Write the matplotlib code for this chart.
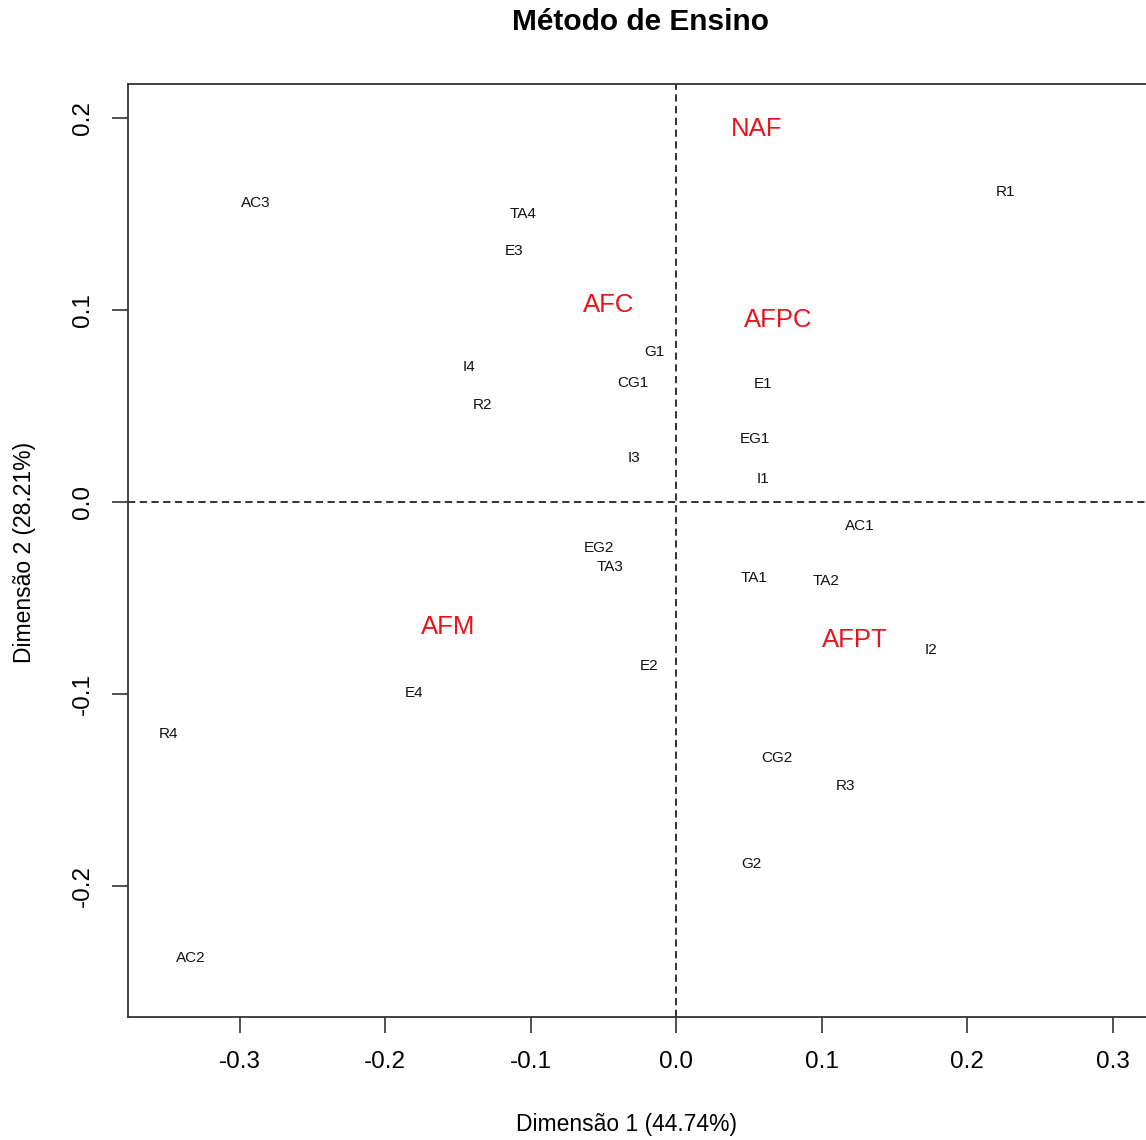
import matplotlib
matplotlib.use("Agg")
import matplotlib.pyplot as plt

plt.rcParams['font.family'] = ['Liberation Sans', 'DejaVu Sans']

# Category labels (black) and their coordinates
cat_labels = ["AC3", "TA4", "E3", "R1", "G1", "I4", "CG1", "E1", "R2", "EG1", "I3", "I1",
              "AC1", "EG2", "TA3", "TA1", "TA2", "I2", "E2", "E4", "R4", "CG2", "R3", "G2", "AC2"]
cat_dim1 = [-0.2887, -0.1052, -0.1113, 0.2268, -0.0151, -0.1423, -0.0296, 0.0598, -0.1333,
            0.0543, -0.0289, 0.0598, 0.1265, -0.0529, -0.0454, 0.0536, 0.1031, 0.1753,
            -0.0186, -0.1801, -0.3491, 0.0694, 0.1162, 0.0515, -0.3333]
cat_dim2 = [0.1558, 0.1500, 0.1308, 0.1615, 0.0781, 0.0703, 0.0620, 0.0615, 0.0505,
            0.0328, 0.0229, 0.0120, -0.0125, -0.0239, -0.0338, -0.0396, -0.0411, -0.0771,
            -0.0854, -0.0995, -0.1208, -0.1333, -0.1479, -0.1885, -0.2375]

# Teaching method labels (red)
met_labels = ["NAF", "AFC", "AFPC", "AFM", "AFPT"]
met_dim1 = [0.0557, -0.0460, 0.0701, -0.1567, 0.1230]
met_dim2 = [0.1943, 0.1026, 0.0948, -0.0651, -0.0718]

xticks = [-0.3, -0.2, -0.1, 0.0, 0.1, 0.2, 0.3]
yticks = [-0.2, -0.1, 0.0, 0.1, 0.2]

W, H = 1146, 1140
fig = plt.figure(figsize=(W / 100, H / 100), dpi=100)
left, right, top, bottom = 128, 1162, 84, 1017
ax = fig.add_axes([left / W, 1 - bottom / H, (right - left) / W, (bottom - top) / H])

x0 = (left - 676) / 1455.0
x1 = (right - 676) / 1455.0
y1 = (502 - top) / 1920.0
y0 = (502 - bottom) / 1920.0
ax.set_xlim(x0, x1)
ax.set_ylim(y0, y1)

ax.axhline(0, color='#222222', lw=1.3, ls=(0, (4, 2.5)))
ax.axvline(0, color='#222222', lw=1.3, ls=(0, (4, 2.5)))

for lab, x, y in zip(cat_labels, cat_dim1, cat_dim2):
    ax.text(x, y, lab, ha='center', va='center', fontsize=11, color='#111111')
for lab, x, y in zip(met_labels, met_dim1, met_dim2):
    ax.text(x, y, lab, ha='center', va='center', fontsize=18.5, color='#e8141c')

ax.set_xticks(xticks)
ax.set_xticklabels([f"{v:.1f}" for v in xticks])
ax.set_yticks(yticks)
ax.set_yticklabels([f"{v:.1f}" for v in yticks], rotation=90, va='center')
ax.tick_params(axis='both', length=11.5, width=1.2, labelsize=17.5, color='#333333')
ax.tick_params(axis='x', pad=13)
ax.tick_params(axis='y', pad=13)
for s in ax.spines.values():
    s.set_linewidth(1.3)
    s.set_color('#333333')

fig.text(626 / W, 1 - 1124 / H, "Dimensão 1 (44.74%)", ha='center', va='center', fontsize=16.5)
fig.text(25 / W, 1 - 552 / H, "Dimensão 2 (28.21%)", ha='center', va='center', fontsize=16.5, rotation=90)
fig.text(640 / W, 1 - 22 / H, "Método de Ensino", ha='center', va='center', fontsize=21.5, fontweight='bold')

fig.savefig("out.png", dpi=100)
